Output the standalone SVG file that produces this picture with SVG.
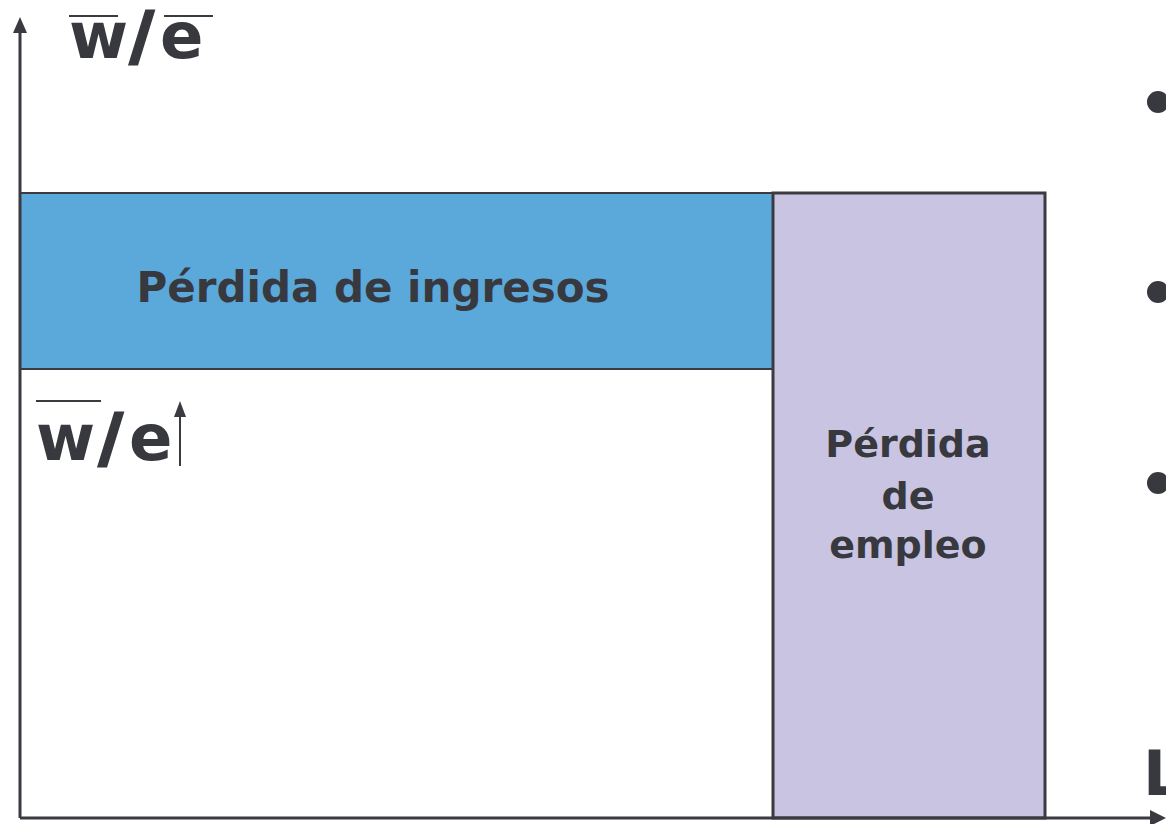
<svg xmlns="http://www.w3.org/2000/svg" width="1166" height="824" viewBox="0 0 1166 824">
<style>
.t{font-family:"DejaVu Sans",Verdana,sans-serif;font-weight:bold;fill:#38383f}
.sl{stroke:#38383f;stroke-width:3}
.ln{stroke:#3a3a40;fill:none}
</style>
<rect width="1166" height="824" fill="#fff"/>
<g id="ingresos">
<rect x="20" y="193" width="753" height="176" fill="#5ba8db" stroke="#3a3a40" stroke-width="2"/>
<text class="t" x="373" y="302" font-size="42" text-anchor="middle">Pérdida de ingresos</text>
</g>
<g id="empleo">
<rect x="773" y="193" width="272" height="625" fill="#c8c4e1" stroke="#3a3a40" stroke-width="3"/>
<text class="t" x="908" y="457" font-size="38" text-anchor="middle">Pérdida</text>
<text class="t" x="908" y="509" font-size="38" text-anchor="middle">de</text>
<text class="t" x="908" y="558" font-size="38" text-anchor="middle">empleo</text>
</g>
<g id="connectors">
<line class="ln" x1="20" y1="818" x2="20" y2="30" stroke-width="3"/>
<path d="M13,33 L20,17 L27,33 z" fill="#3a3a40"/>
<line class="ln" x1="20" y1="818" x2="1152" y2="818" stroke-width="3"/>
<path d="M1150,810 L1166,818 L1150,826 z" fill="#3a3a40"/>
<line class="ln" x1="180" y1="466" x2="180" y2="412" stroke-width="2"/>
<path d="M174,417 L180,401 L186,417 z" fill="#3a3a40"/>
</g>
<g id="label-top">
<text class="t" y="58" font-size="64"><tspan x="69">w</tspan><tspan class="sl" x="130">/</tspan><tspan x="160">e</tspan></text>
<line class="ln" x1="69" y1="16" x2="118" y2="16" stroke-width="2"/>
<line class="ln" x1="164" y1="16" x2="213" y2="16" stroke-width="2"/>
</g>
<g id="label-mid">
<text class="t" y="460" font-size="64"><tspan x="36">w</tspan><tspan class="sl" x="99">/</tspan><tspan x="129">e</tspan></text>
<line class="ln" x1="36" y1="401" x2="101" y2="401" stroke-width="2"/>
</g>
<g id="label-L">
<text class="t" x="1143" y="795" font-size="62">L</text>
</g>
<g id="bullets" fill="#38383f">
<circle cx="1158" cy="102" r="11"/>
<circle cx="1158" cy="292" r="11"/>
<circle cx="1158" cy="483" r="11"/>
</g>
</svg>
